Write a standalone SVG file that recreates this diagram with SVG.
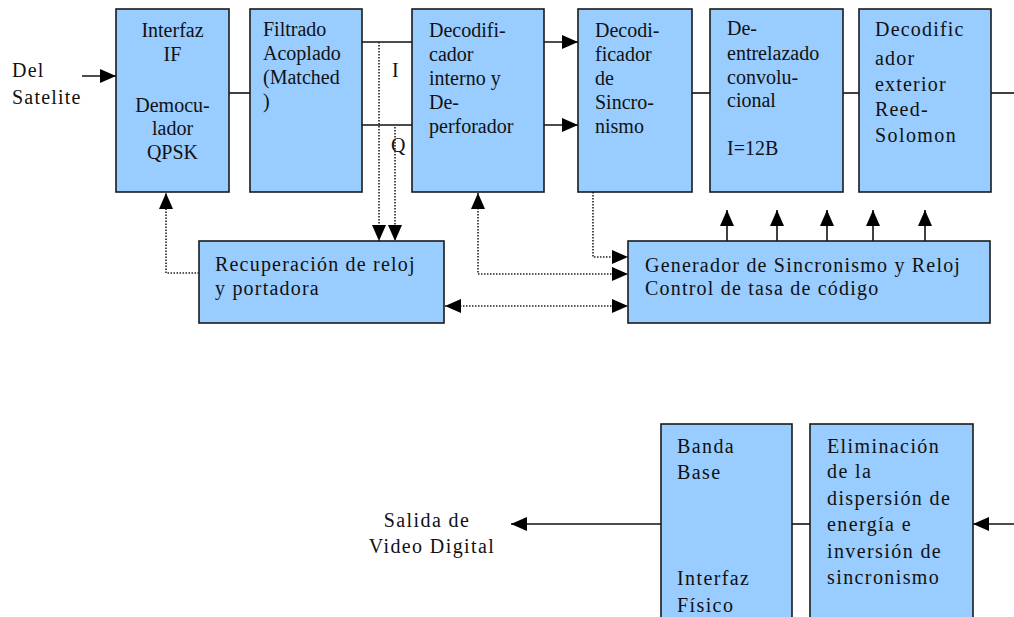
<svg xmlns="http://www.w3.org/2000/svg" width="1014" height="617" viewBox="0 0 1014 617">
<style>
.box{fill:#99ccff;stroke:#1a1a1a;stroke-width:1.6}
.t{font-family:"Liberation Serif","Times New Roman",serif;font-size:20px;fill:#111}
.c{text-anchor:middle}
.w{letter-spacing:1.2px}
.w2{letter-spacing:1.4px}
.ln{fill:none;stroke:#111;stroke-width:1.6}
.dot{fill:none;stroke:#222;stroke-width:1.6;stroke-dasharray:1.5 1.5}
</style>
<defs>
<marker id="ah" viewBox="0 0 16 14" markerUnits="userSpaceOnUse" markerWidth="16" markerHeight="14" refX="16" refY="7" orient="auto-start-reverse">
<path d="M0,0 L16,7 L0,14 Z" fill="#000"/>
</marker>
</defs>
<rect width="1014" height="617" fill="#fff"/>

<g id="connectors">
<line class="ln" x1="82" y1="76" x2="116" y2="76" marker-end="url(#ah)"/>
<line class="ln" x1="229" y1="93" x2="250" y2="93"/>
<line class="ln" x1="362" y1="42" x2="412" y2="42"/>
<line class="ln" x1="362" y1="125" x2="412" y2="125"/>
<line class="ln" x1="544" y1="42" x2="578" y2="42" marker-end="url(#ah)"/>
<line class="ln" x1="544" y1="125" x2="578" y2="125" marker-end="url(#ah)"/>
<line class="ln" x1="692" y1="93" x2="710" y2="93"/>
<line class="ln" x1="843" y1="93" x2="859" y2="93"/>
<line class="ln" x1="991" y1="93" x2="1014" y2="93"/>
<line class="dot" x1="379" y1="42" x2="379" y2="241" marker-end="url(#ah)"/>
<line class="dot" x1="395" y1="127" x2="395" y2="241" marker-end="url(#ah)"/>
<path class="dot" d="M199,273 H166 V193" marker-end="url(#ah)"/>
<path class="dot" d="M478,193 V274 H628" marker-start="url(#ah)" marker-end="url(#ah)"/>
<path class="dot" d="M593,192 V257 H628" marker-end="url(#ah)"/>
<path class="dot" d="M445,306 H628" marker-start="url(#ah)" marker-end="url(#ah)"/>
<line class="ln" x1="727" y1="241" x2="727" y2="210" marker-end="url(#ah)"/>
<line class="ln" x1="777" y1="241" x2="777" y2="210" marker-end="url(#ah)"/>
<line class="ln" x1="827" y1="241" x2="827" y2="210" marker-end="url(#ah)"/>
<line class="ln" x1="873" y1="241" x2="873" y2="210" marker-end="url(#ah)"/>
<line class="ln" x1="925" y1="241" x2="925" y2="210" marker-end="url(#ah)"/>
<line class="ln" x1="1014" y1="524" x2="973" y2="524" marker-end="url(#ah)"/>
<line class="ln" x1="810" y1="524" x2="792" y2="524"/>
<line class="ln" x1="661" y1="524" x2="511" y2="524" marker-end="url(#ah)"/>
</g>

<g id="labels">
<text class="t w" x="12" y="77">Del</text>
<text class="t w" x="12" y="104">Satelite</text>
<text class="t" x="392" y="77">I</text>
<text class="t" x="391" y="152">Q</text>
<text class="t c w2" x="427" y="527">Salida de</text>
<text class="t c w2" x="432" y="553">Video Digital</text>
</g>

<g id="n-interfaz">
<rect class="box" x="116" y="9" width="113" height="183"/>
<text class="t c" x="172.5" y="37">Interfaz</text>
<text class="t c" x="172.5" y="61">IF</text>
<text class="t c" x="172.5" y="112">Democu-</text>
<text class="t c" x="172.5" y="135">lador</text>
<text class="t c" x="172.5" y="159">QPSK</text>
</g>

<g id="n-filtrado">
<rect class="box" x="250" y="9" width="112" height="183"/>
<text class="t" x="263" y="36">Filtrado</text>
<text class="t" x="263" y="60">Acoplado</text>
<text class="t" x="263" y="84">(Matched</text>
<text class="t" x="263" y="108">)</text>
</g>

<g id="n-dec-interno">
<rect class="box" x="412" y="9" width="132" height="183"/>
<text class="t" x="429" y="37">Decodifi-</text>
<text class="t" x="429" y="61">cador</text>
<text class="t" x="429" y="85">interno y</text>
<text class="t" x="429" y="109">De-</text>
<text class="t" x="429" y="133">perforador</text>
</g>

<g id="n-dec-sincro">
<rect class="box" x="578" y="9" width="114" height="183"/>
<text class="t" x="595" y="37">Decodi-</text>
<text class="t" x="595" y="61">ficador</text>
<text class="t" x="595" y="85">de</text>
<text class="t" x="595" y="109">Sincro-</text>
<text class="t" x="595" y="133">nismo</text>
</g>

<g id="n-deentrelazado">
<rect class="box" x="710" y="9" width="133" height="183"/>
<text class="t" x="727" y="35">De-</text>
<text class="t" x="727" y="60">entrelazado</text>
<text class="t" x="727" y="84">convolu-</text>
<text class="t" x="727" y="107">cional</text>
<text class="t" x="727" y="155">I=12B</text>
</g>

<g id="n-dec-exterior">
<rect class="box" x="859" y="9" width="132" height="183"/>
<text class="t w" x="875" y="36">Decodific</text>
<text class="t w" x="875" y="65">ador</text>
<text class="t w" x="875" y="91">exterior</text>
<text class="t w" x="875" y="116">Reed-</text>
<text class="t w2" x="875" y="142">Solomon</text>
</g>

<g id="n-recuperacion">
<rect class="box" x="199" y="241" width="245" height="82"/>
<text class="t w" x="215" y="271">Recuperación de reloj</text>
<text class="t w" x="215" y="295">y portadora</text>
</g>

<g id="n-generador">
<rect class="box" x="628" y="241" width="362" height="82"/>
<text class="t w" x="645" y="272">Generador de Sincronismo y Reloj</text>
<text class="t w" x="645" y="295">Control de tasa de código</text>
</g>

<g id="n-banda-base">
<rect class="box" x="661" y="424" width="131" height="210"/>
<text class="t w2" x="677" y="453">Banda</text>
<text class="t w2" x="677" y="479">Base</text>
<text class="t w2" x="677" y="585">Interfaz</text>
<text class="t w2" x="677" y="612">Físico</text>
</g>

<g id="n-eliminacion">
<rect class="box" x="810" y="424" width="163" height="210"/>
<text class="t w2" x="827" y="453">Eliminación</text>
<text class="t w2" x="827" y="478">de la</text>
<text class="t w2" x="827" y="505">dispersión de</text>
<text class="t w2" x="827" y="531">energía e</text>
<text class="t w2" x="827" y="558">inversión de</text>
<text class="t w2" x="827" y="584">sincronismo</text>
</g>
</svg>
